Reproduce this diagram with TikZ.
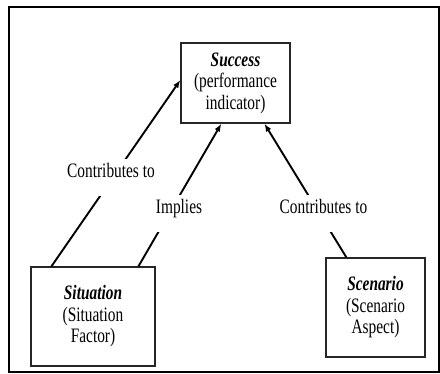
\documentclass[tikz,border=0pt]{standalone}
\usepackage{fontspec}
\setmainfont{Liberation Serif}[FakeStretch=0.75]
\usetikzlibrary{arrows.meta}
\begin{document}
\begin{tikzpicture}[x=1pt,y=-1pt,
  every node/.style={font=\fontsize{20.5}{21.5}\selectfont},
  concept/.style={draw=black!85,line width=1.2pt,rectangle,inner sep=0pt,align=center},
  link/.style={line width=1.9pt,-{Latex[length=8pt,width=6pt]}},
  tag/.style={fill=white,inner xsep=1pt,inner ysep=0pt,text height=19pt,text depth=18pt,anchor=base}]
  \useasboundingbox (0,0) rectangle (440,374);
  % outer frame
  \draw[line width=2pt] (9,7) rectangle (438.5,372);
  % concept boxes
  \node[concept,minimum width=109pt,minimum height=80pt] (succ) at (235.5,83)
    {\textbf{\textit{Success}}\\(performance\\indicator)};
  \node[concept,minimum width=124pt,minimum height=99pt] (sit) at (93,316.5)
    {\textbf{\textit{Situation}}\\(Situation\\Factor)};
  \node[concept,minimum width=99pt,minimum height=99pt] (scen) at (375.5,307.5)
    {\textbf{\textit{Scenario}}\\(Scenario\\Aspect)};
  % relations
  \draw[link] ([xshift=21pt]sit.north west) -- ([yshift=3pt]succ.west);
  \draw[link] ([xshift=108pt]sit.north west) -- ([xshift=41pt]succ.south west);
  \draw[link] ([xshift=21pt]scen.north west) -- ([xshift=84pt]succ.south west);
  % relation labels
  \node[tag] (l1) at (111,178) {Contributes to};
  \node[tag] (l2) at (179,214) {Implies};
  \node[tag] (l3) at (323.5,214) {Contributes to};
\end{tikzpicture}
\end{document}
